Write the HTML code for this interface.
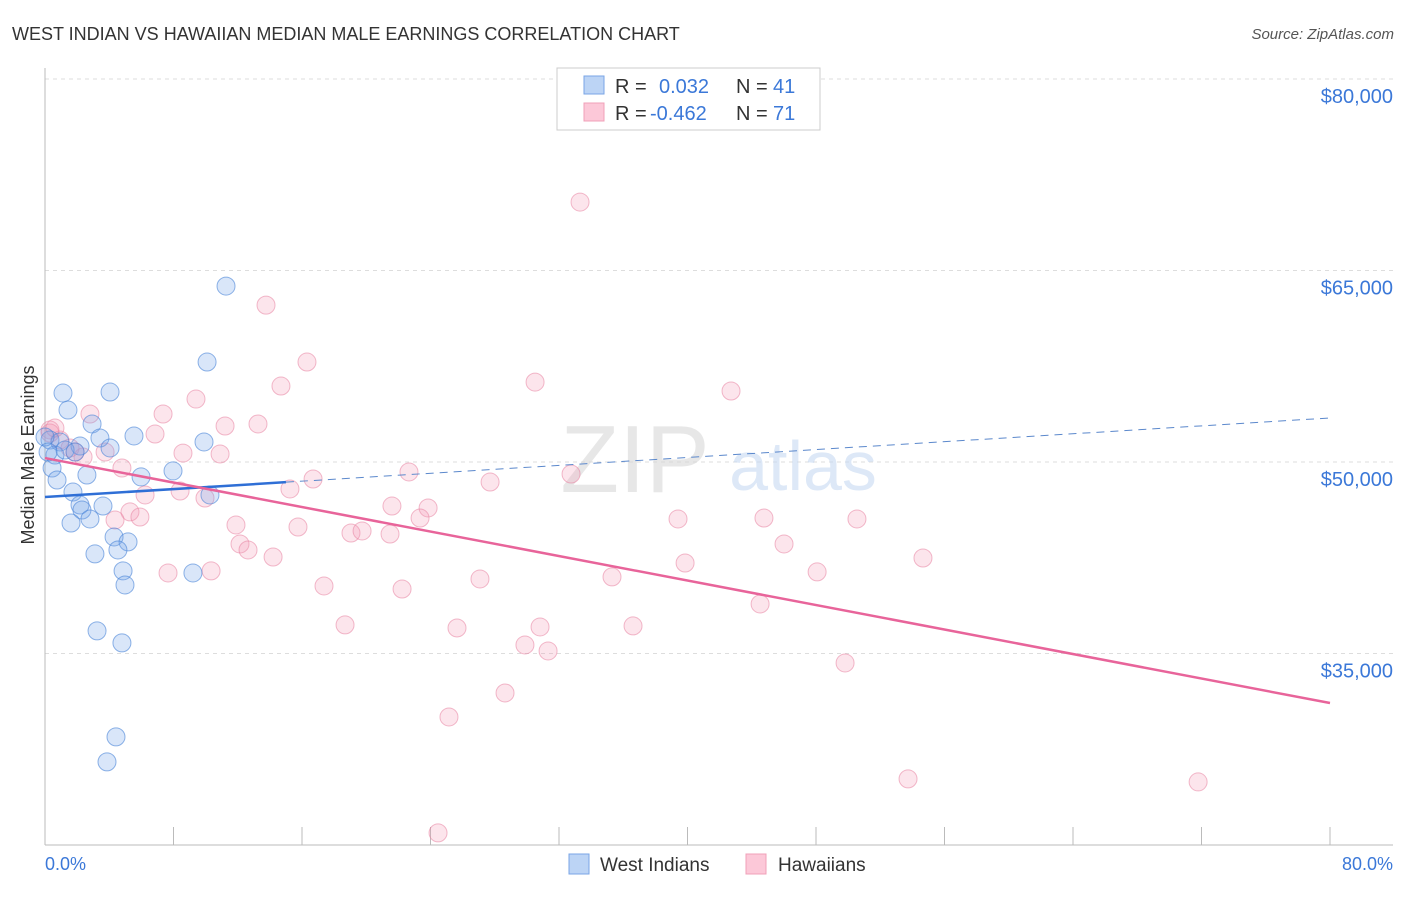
<!DOCTYPE html>
<html><head><meta charset="utf-8"><style>
body{margin:0;background:#fff;font-family:"Liberation Sans",sans-serif}
svg text{font-family:"Liberation Sans",sans-serif}
</style></head><body>
<svg id="chart" width="1406" height="892" viewBox="0 0 1406 892" xmlns="http://www.w3.org/2000/svg">
<text x="12" y="40" font-size="18" fill="#333">WEST INDIAN VS HAWAIIAN MEDIAN MALE EARNINGS CORRELATION CHART</text>
<text x="1394" y="39" font-size="15" fill="#555" text-anchor="end" font-style="italic">Source: ZipAtlas.com</text>
<g id="grid"></g>
<g><text x="635" y="492" font-size="96" font-family="Liberation Serif" fill="#d8d8d8" text-anchor="middle" opacity="0.6">ZIP</text><text x="803" y="490" font-size="70" fill="#c7d9f2" text-anchor="middle" opacity="0.6">atlas</text></g>
<g id="axes"></g>
<g id="pts"></g>
<g id="trends"></g>
<text transform="translate(34,455) rotate(-90)" font-size="18" fill="#333" text-anchor="middle">Median Male Earnings</text>
<text x="45" y="870" font-size="18" fill="#3b78d8">0.0%</text>
<text x="1393" y="870" font-size="18" fill="#3b78d8" text-anchor="end">80.0%</text>
<g>
<rect x="557" y="68" width="263" height="62" fill="#fff" stroke="#ccc"/>
<rect x="584" y="76" width="20" height="18" fill="#bcd4f5" stroke="#7aa5e6"/>
<rect x="584" y="103" width="20" height="18" fill="#fcc8d8" stroke="#f0a0b8"/>
<text x="615" y="93" font-size="20" fill="#333">R =</text><text x="659" y="93" font-size="20" fill="#3b78d8">0.032</text>
<text x="736" y="93" font-size="20" fill="#333">N =</text><text x="773" y="93" font-size="20" fill="#3b78d8">41</text>
<text x="615" y="120" font-size="20" fill="#333">R =</text><text x="650" y="120" font-size="20" fill="#3b78d8">-0.462</text>
<text x="736" y="120" font-size="20" fill="#333">N =</text><text x="773" y="120" font-size="20" fill="#3b78d8">71</text>
</g>
<g>
<rect x="569" y="854" width="20" height="20" fill="#bcd4f5" stroke="#7aa5e6"/>
<text x="600" y="871" font-size="19" fill="#333">West Indians</text>
<rect x="746" y="854" width="20" height="20" fill="#fcc8d8" stroke="#f0a0b8"/>
<text x="778" y="871" font-size="19" fill="#333">Hawaiians</text>
</g>
</svg>
<script>
const yTicks=[35000,50000,65000,80000];
const yTickLabels=["$35,000","$50,000","$65,000","$80,000"];
const xTicks=[0,8,16,24,32,40,48,56,64,72,80];
const blueX=[1.12,1.43,4.05,11.27,10.09,2.93,5.54,3.42,0.31,0.93,2.18,4.05,0.62,0.44,2.61,5.98,7.97,0.75,1.74,9.90,10.27,2.18,3.61,2.30,2.80,1.62,4.30,5.17,4.54,3.11,4.86,4.98,9.21,3.24,4.79,4.42,3.86,0.0,0.19,1.25,1.87];
const blueY=[55400,54070,55480,63780,57830,52980,52040,51880,51720,51570,51250,51100,50550,49530,48980,48830,49300,48590,47650,51570,47420,46630,46550,46240,45540,45220,44130,43740,43110,42800,41470,40370,41310,36770,35830,28470,26510,51960,50780,50940,50780];
const pinkX=[33.31,13.76,16.31,14.69,30.51,42.71,9.40,7.35,2.80,13.26,11.21,6.85,0.31,0.93,1.56,3.74,2.37,8.59,10.90,4.79,22.66,32.75,16.69,27.71,15.25,8.41,6.23,9.96,21.60,23.85,5.29,5.91,23.35,39.41,44.76,50.55,11.89,4.36,15.75,19.05,19.74,21.48,12.14,12.64,14.20,46.01,54.66,39.85,7.66,10.34,48.07,35.30,27.08,17.37,22.23,44.52,18.68,25.65,30.82,36.61,29.88,31.32,49.81,28.64,25.15,53.73,71.79,24.47,0.31,0.62,1.87];
const pinkY=[70360,62290,57830,55950,56260,55560,54930,53760,53760,52980,52820,52190,52510,51720,51100,50780,50390,50700,50630,49530,49220,49060,48670,48430,47890,47730,47420,47180,46550,46400,46090,45690,45610,45540,45610,45540,45070,45460,44910,44440,44600,44360,43580,43110,42560,43580,42480,42090,41310,41470,41390,41000,40840,40290,40050,38880,37240,37000,37080,37160,35670,35200,34260,31910,30030,25180,24940,20950,52270,52660,50780];
const blueTrend=[47260,53450];
const pinkTrend=[50310,31120];
const blueSolidEnd=15;
const NS="http://www.w3.org/2000/svg";
const X=v=>45+v/80*1285;
const Y=v=>462-(v-50000)*191.5/15000;
function mk(tag,attrs,parent){const e=document.createElementNS(NS,tag);for(const k in attrs)e.setAttribute(k,attrs[k]);document.getElementById(parent).appendChild(e);return e;}
yTicks.forEach((t,i)=>{
 const l=mk('line',{x1:45,x2:1393,y1:Y(t),y2:Y(t),stroke:'#ddd','stroke-dasharray':'4,4'},'grid');
 
 
 const tx=mk('text',{x:1393,y:Y(t)+24,'font-size':20,fill:'#3b78d8','text-anchor':'end'},'grid');
 tx.textContent=yTickLabels[i];
 
 
});
const ax1=mk('line',{x1:45,x2:45,y1:68,y2:845,stroke:'#bbb'},'axes');


const ax2=mk('line',{x1:45,x2:1393,y1:845,y2:845,stroke:'#bbb'},'axes');


xTicks.forEach(t=>{
 const l=mk('line',{x1:X(t),x2:X(t),y1:827,y2:845,stroke:'#bbb'},'axes');
 
 
});
function pts(xs,ys,fill,stroke,name){
 xs.forEach((x,i)=>{
  const c=mk('circle',{cx:X(x),cy:Y(ys[i]),r:9,fill:fill,stroke:stroke,'stroke-width':1},'pts');
  
  
 });
}
pts(pinkX,pinkY,'rgba(244,150,180,0.25)','rgba(232,130,160,0.55)','hawaiian-point');
pts(blueX,blueY,'rgba(120,165,235,0.28)','rgba(70,130,215,0.6)','west-indian-point');
const by=x=>blueTrend[0]+(blueTrend[1]-blueTrend[0])*x/80;
const b1=mk('line',{x1:X(0),y1:Y(by(0)),x2:X(blueSolidEnd),y2:Y(by(blueSolidEnd)),stroke:'#2f6fd6','stroke-width':2.5},'trends');


const b2=mk('line',{x1:X(blueSolidEnd),y1:Y(by(blueSolidEnd)),x2:X(80),y2:Y(by(80)),stroke:'#5b88cc','stroke-width':1,'stroke-dasharray':'8,6'},'trends');


const p1=mk('line',{x1:X(0),y1:Y(pinkTrend[0]),x2:X(80),y2:Y(pinkTrend[1]),stroke:'#e8649a','stroke-width':2.5},'trends');


</script>
</body></html>
